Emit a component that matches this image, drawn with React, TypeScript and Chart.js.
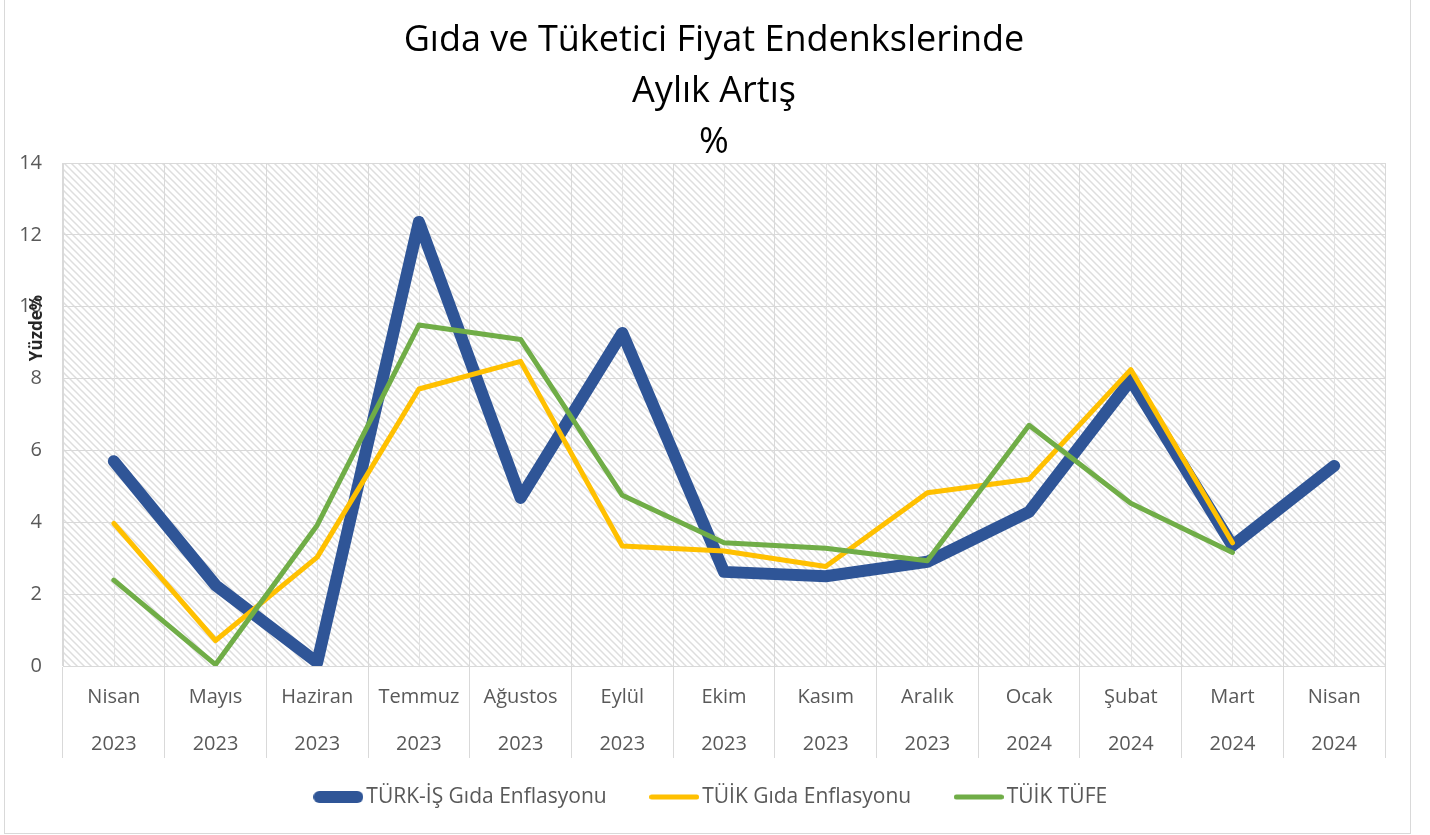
import React, { useEffect, useRef } from "react";
import { Chart, registerables } from "chart.js";

Chart.register(...registerables);

const months = ["Nisan", "Mayıs", "Haziran", "Temmuz", "Ağustos", "Eylül", "Ekim", "Kasım", "Aralık", "Ocak", "Şubat", "Mart", "Nisan"];
const years = ["2023", "2023", "2023", "2023", "2023", "2023", "2023", "2023", "2023", "2024", "2024", "2024", "2024"];

const turkIsGida = [5.7, 2.25, 0.1, 12.36, 4.68, 9.27, 2.62, 2.5, 2.9, 4.29, 7.96, 3.35, 5.57];
const tuikGida = [3.97, 0.71, 3.03, 7.71, 8.48, 3.34, 3.2, 2.77, 4.82, 5.2, 8.25, 3.43, null];
const tuikTufe = [2.39, 0.04, 3.92, 9.49, 9.09, 4.75, 3.43, 3.28, 2.93, 6.7, 4.53, 3.16, null];

const seriesNames = ["TÜRK-İŞ Gıda Enflasyonu", "TÜİK Gıda Enflasyonu", "TÜİK TÜFE"];
const seriesColors = ["#2F5597", "#FFC000", "#70AD47"];
const seriesWidths = [12, 5, 5];

const titleLines = ["Gıda ve Tüketici Fiyat Endenkslerinde", "Aylık Artış", "%"];
const yTitle = "Yüzde%";
const yTicks = { min: 0, max: 14, step: 2 };

const FONT = "'Open Sans', 'Noto Sans', sans-serif";
const TEXT = "#595959";
const GRID = "#d9d9d9";

const LEGEND_BOX = 35;

function makeLegendLine(color: string, width: number) {
  const W = 50;
  const c = document.createElement("canvas");
  c.width = W;
  c.height = 16;
  const g = c.getContext("2d")!;
  g.strokeStyle = color;
  g.lineWidth = width;
  g.lineCap = "round";
  g.beginPath();
  g.moveTo(width / 2, 8);
  g.lineTo(W - width / 2, 8);
  g.stroke();
  return c;
}

function makeHatch() {
  const s = 7;
  const c = document.createElement("canvas");
  c.width = s;
  c.height = s;
  const g = c.getContext("2d")!;
  g.strokeStyle = "#dedede";
  g.lineWidth = 1.5;
  for (const x0 of [-s, 0, s]) {
    g.beginPath();
    g.moveTo(x0 - 1, -1);
    g.lineTo(x0 + s + 1, s + 1);
    g.stroke();
  }
  return c;
}

const bgPlugin = {
  id: "bgHatch",
  beforeDraw(chart: any) {
    const { ctx, chartArea } = chart;
    const pat = ctx.createPattern(makeHatch(), "repeat");
    ctx.save();
    ctx.fillStyle = pat;
    ctx.fillRect(chartArea.left, chartArea.top, chartArea.right - chartArea.left, chartArea.bottom - chartArea.top);
    ctx.restore();
  },
  beforeDatasetsDraw(chart: any) {
    const { ctx, chartArea } = chart;
    const xs = chart.scales.x;
    ctx.save();
    ctx.strokeStyle = "#e2e2e2";
    ctx.lineWidth = 1;
    for (let i = 0; i < months.length; i++) {
      const x = Math.round(xs.getPixelForValue(i)) + 0.5;
      ctx.beginPath();
      ctx.moveTo(x, chartArea.top);
      ctx.lineTo(x, chartArea.bottom);
      ctx.stroke();
    }
    ctx.restore();
  },
  afterDraw(chart: any) {
    const { ctx, chartArea } = chart;
    ctx.save();
    ctx.translate(chartArea.left - 26, chartArea.top + 165);
    ctx.rotate(-Math.PI / 2);
    ctx.font = `bold 17px ${FONT}`;
    ctx.fillStyle = "#262626";
    ctx.textAlign = "center";
    ctx.textBaseline = "middle";
    ctx.fillText(yTitle, 0, 0);
    ctx.restore();
  },
};

export default function App() {
  const ref = useRef<HTMLCanvasElement>(null);

  useEffect(() => {
    const labels = months.map((m, i) => [m, years[i]]);
    const values = [turkIsGida, tuikGida, tuikTufe];
    const chart = new Chart(ref.current!, {
      type: "line",
      data: {
        labels,
        datasets: values.map((v, i) => ({
          label: seriesNames[i],
          data: v,
          borderColor: seriesColors[i],
          backgroundColor: seriesColors[i],
          borderWidth: seriesWidths[i],
          borderCapStyle: "round",
          borderJoinStyle: "round",
          pointRadius: 0,
          pointHoverRadius: 0,
          tension: 0,
          fill: false,
          order: 3 - i,
        })),
      },
      options: {
        animation: false,
        responsive: true,
        maintainAspectRatio: false,
        layout: { padding: { left: 13, right: 0, top: 0, bottom: 15.5 } },
        plugins: {
          tooltip: { enabled: false },
          title: {
            display: true,
            text: titleLines,
            color: "#000000",
            font: { family: FONT, size: 36, weight: "normal", lineHeight: 1.417 },
            padding: { top: 16.5, bottom: -5.5 },
          },
          legend: {
            display: true,
            position: "bottom",
            title: {
              display: true,
              text: "",
              font: { family: FONT, size: 10, lineHeight: 1 },
              padding: { top: -39.5, bottom: 0 },
            },
            labels: {
              usePointStyle: true,
              pointStyleWidth: LEGEND_BOX,
              padding: 50,
              color: TEXT,
              font: { family: FONT, size: 21 },
              generateLabels: (ch: any) =>
                ch.data.datasets.map((ds: any, i: number) => ({
                  text: ds.label,
                  pointStyle: makeLegendLine(seriesColors[i], seriesWidths[i]),
                  fillStyle: seriesColors[i],
                  strokeStyle: seriesColors[i],
                  lineWidth: 0,
                  hidden: false,
                  datasetIndex: i,
                  fontColor: TEXT,
                })),
            },
          },
        },
        scales: {
          x: {
            type: "category",
            offset: true,
            afterFit: (s: any) => {
              s.height = 100;
            },
            grid: {
              offset: true,
              color: GRID,
              lineWidth: 1,
              drawTicks: true,
              tickLength: 92,
              tickColor: GRID,
            },
            border: { display: true, color: GRID, width: 1 },
            ticks: {
              color: TEXT,
              font: { family: FONT, size: 20, lineHeight: 2.35 },
              padding: -84.5,
              maxRotation: 0,
              autoSkip: false,
            },
          },
          y: {
            min: yTicks.min,
            max: yTicks.max,
            afterFit: (s: any) => {
              s.width = 45;
            },
            grid: { color: GRID, lineWidth: 1, drawTicks: false },
            border: { display: true, color: GRID, width: 1 },
            ticks: {
              stepSize: yTicks.step,
              color: TEXT,
              padding: 21,
              font: { family: FONT, size: 20 },
            },
          },
          yRight: {
            type: "linear",
            position: "right",
            display: true,
            afterFit: (s: any) => {
              s.width = 25;
            },
            grid: { display: false, drawOnChartArea: false, drawTicks: false },
            border: { display: false },
            ticks: { display: false },
          },
        },
      },
      plugins: [bgPlugin],
    } as any);
    return () => chart.destroy();
  }, []);

  return (
    <div
      style={{
        position: "absolute",
        left: 4,
        top: -2,
        width: 1407,
        height: 836,
        border: "1px solid #d9d9d9",
        boxSizing: "border-box",
        background: "#ffffff",
      }}
    >
      <canvas ref={ref} style={{ display: "block", width: "100%", height: "100%" }} />
    </div>
  );
}
